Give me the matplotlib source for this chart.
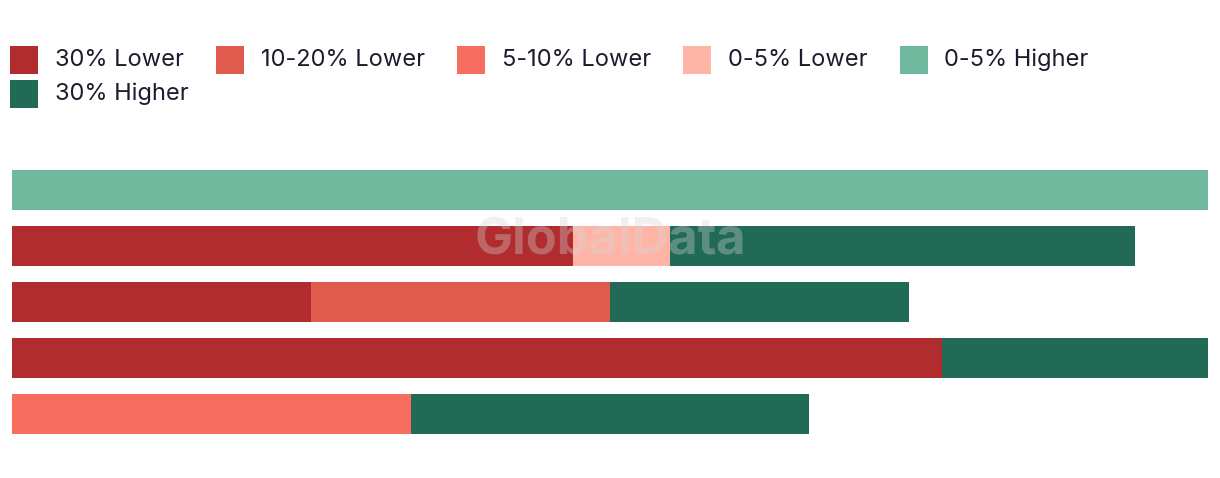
import matplotlib.pyplot as plt
from matplotlib.patches import Rectangle


# данные: пять строк, значения по категориям (единицы шкалы, максимум 36)
CATEGORIES = ["30% Lower", "10-20% Lower", "5-10% Lower", "0-5% Lower", "0-5% Higher", "30% Higher"]
COLORS = ["#b02c2e", "#e05a4e", "#f76e61", "#ffb5a6", "#70b99f", "#216a56"]

ROW_30_LOWER = [0, 16.9, 9, 28, 0]
ROW_10_20_LOWER = [0, 0, 9, 0, 0]
ROW_5_10_LOWER = [0, 0, 0, 0, 12]
ROW_0_5_LOWER = [0, 2.9, 0, 0, 0]
ROW_0_5_HIGHER = [36, 0, 0, 0, 0]
ROW_30_HIGHER = [0, 14, 9, 8, 12]

SERIES = [ROW_30_LOWER, ROW_10_20_LOWER, ROW_5_10_LOWER, ROW_0_5_LOWER, ROW_0_5_HIGHER, ROW_30_HIGHER]
X_MAX = 36

TEXT_COLOR = "#1c1c2e"
FONT = ["Inter", "DejaVu Sans"]

W, H = 1220, 478
fig = plt.figure(figsize=(W / 100, H / 100), dpi=100)

# область баров: x 12..1208, y 170..434 пикселей
ax = fig.add_axes([12 / W, (H - 434) / H, 1196 / W, 264 / H])
bar_h = 40 / 56
rows = list(range(len(ROW_30_LOWER)))
left = [0.0] * len(rows)
for values, color in zip(SERIES, COLORS):
    ax.barh(rows, values, left=left, height=bar_h, color=color, linewidth=0)
    left = [l + v for l, v in zip(left, values)]

ax.set_xlim(0, X_MAX)
ax.set_ylim(len(rows) - 1 + bar_h / 2, -bar_h / 2)
ax.axis("off")

# водяной знак
fig.text(610 / W, 1 - 241 / H, "GlobalData", ha="center", va="center",
         fontsize=36.5, fontweight="bold", family=FONT, color="#d4d4d4", alpha=0.35)

# легенда, перенос строк как в html
renderer = fig.canvas.get_renderer()
sq = 28
x, y = 10, 60
gap_text = 17
gap_item = 32
for name, color in zip(CATEGORIES, COLORS):
    t = fig.text(0, 0, name, fontsize=17, family=FONT, color=TEXT_COLOR, va="center")
    tw = t.get_window_extent(renderer).width
    if x + sq + gap_text + tw > W - 10:
        x = 10
        y += 34
    fig.add_artist(Rectangle((x / W, 1 - (y + sq / 2) / H), sq / W, sq / H,
                             transform=fig.transFigure, color=color, linewidth=0))
    t.set_position(((x + sq + gap_text) / W, 1 - y / H))
    x += sq + gap_text + tw + gap_item

fig.savefig("out.png", dpi=100, facecolor="white")
